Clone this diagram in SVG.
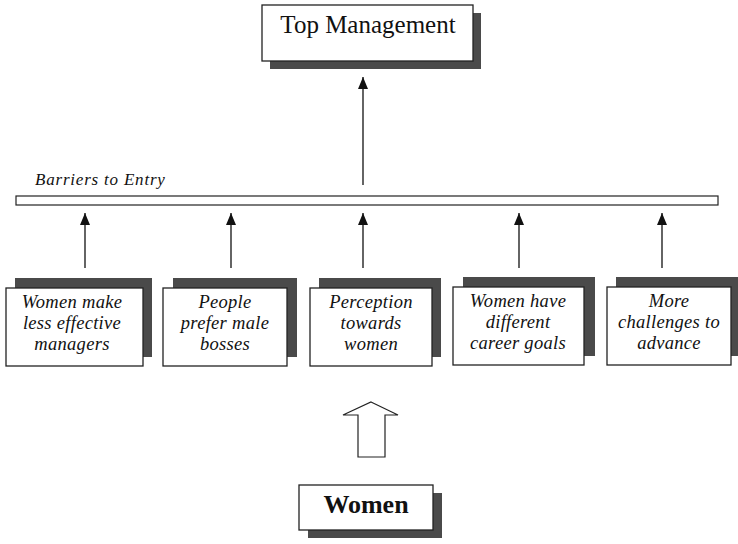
<svg xmlns="http://www.w3.org/2000/svg" width="738" height="544" viewBox="0 0 738 544">
<defs>
<marker id="ah" markerWidth="12" markerHeight="10" refX="12" refY="5" orient="auto" markerUnits="userSpaceOnUse" viewBox="0 0 12 10">
<path d="M0,0 L12,5 L0,10 Z" fill="#111"/>
</marker>
</defs>
<style>
.box{fill:#fff;stroke:#222;stroke-width:1.3}
.sh{fill:#4a4a4a}
.it{font-family:"Liberation Serif","Times New Roman",serif;font-style:italic;font-size:18.5px;fill:#111;text-anchor:middle;letter-spacing:0.3px}
.ln{stroke:#111;stroke-width:1.3;fill:none}
</style>
<rect width="738" height="544" fill="#fff"/>
<g id="top">
<rect class="sh" x="270" y="13" width="211" height="56"/>
<rect class="box" x="262" y="5" width="211" height="56"/>
<text x="368" y="33" font-family="Liberation Serif,serif" font-size="25" text-anchor="middle" fill="#111">Top Management</text>
</g>
<g id="barrier">
<text x="35" y="185" font-family="Liberation Serif,serif" font-style="italic" font-size="17" letter-spacing="0.8" fill="#111">Barriers to Entry</text>
<rect x="16" y="196" width="702" height="9" fill="#fff" stroke="#222" stroke-width="1.2"/>
</g>
<g id="connectors">
<line class="ln" x1="363" y1="185" x2="363" y2="77" marker-end="url(#ah)"/>
<line class="ln" x1="85" y1="268" x2="85" y2="213" marker-end="url(#ah)"/>
<line class="ln" x1="231" y1="268" x2="231" y2="213" marker-end="url(#ah)"/>
<line class="ln" x1="363" y1="268" x2="363" y2="213" marker-end="url(#ah)"/>
<line class="ln" x1="519" y1="268" x2="519" y2="213" marker-end="url(#ah)"/>
<line class="ln" x1="662" y1="268" x2="662" y2="213" marker-end="url(#ah)"/>
<path d="M371,402 L398,415 L385,415 L385,457 L358,457 L358,415 L343,415 Z" fill="#fff" stroke="#222" stroke-width="1.2"/>
</g>
<g id="b1">
<rect class="sh" x="15" y="278" width="137" height="79"/>
<rect class="box" x="6" y="288" width="137" height="78"/>
<text class="it" x="72" y="308">Women make</text>
<text class="it" x="72" y="329">less effective</text>
<text class="it" x="72" y="350">managers</text>
</g>
<g id="b2">
<rect class="sh" x="173" y="278" width="124" height="79"/>
<rect class="box" x="163" y="288" width="124" height="78"/>
<text class="it" x="225" y="308">People</text>
<text class="it" x="225" y="329">prefer male</text>
<text class="it" x="225" y="350">bosses</text>
</g>
<g id="b3">
<rect class="sh" x="319" y="278" width="122" height="79"/>
<rect class="box" x="310" y="288" width="122" height="78"/>
<text class="it" x="371" y="308">Perception</text>
<text class="it" x="371" y="329">towards</text>
<text class="it" x="371" y="350">women</text>
</g>
<g id="b4">
<rect class="sh" x="463" y="277" width="132" height="79"/>
<rect class="box" x="453" y="287" width="131" height="78"/>
<text class="it" x="518" y="307">Women have</text>
<text class="it" x="518" y="328">different</text>
<text class="it" x="518" y="349">career goals</text>
</g>
<g id="b5">
<rect class="sh" x="616" y="277" width="122" height="79"/>
<rect class="box" x="607" y="287" width="124" height="78"/>
<text class="it" x="669" y="307">More</text>
<text class="it" x="669" y="328">challenges to</text>
<text class="it" x="669" y="349">advance</text>
</g>
<g id="women">
<rect class="sh" x="308" y="493" width="134" height="45"/>
<rect class="box" x="299" y="485" width="134" height="45"/>
<text x="366" y="513" font-family="Liberation Serif,serif" font-weight="bold" font-size="26" text-anchor="middle" fill="#111">Women</text>
</g>
</svg>
